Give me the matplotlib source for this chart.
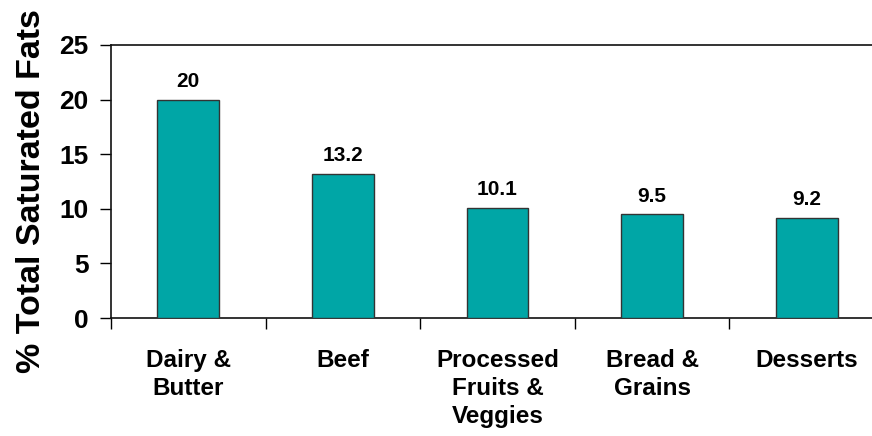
import matplotlib
matplotlib.use("Agg")
import matplotlib.pyplot as plt
import numpy as np
from matplotlib.ticker import FixedLocator, NullFormatter, FixedFormatter

categories = ["Dairy &\nButter", "Beef", "Processed\nFruits &\nVeggies", "Bread &\nGrains", "Desserts"]
values = [20, 13.2, 10.1, 9.5, 9.2]
value_labels = ["20", "13.2", "10.1", "9.5", "9.2"]
yticks = [0, 5, 10, 15, 20, 25]

plt.rcParams["font.family"] = ["Liberation Sans", "DejaVu Sans"]
plt.rcParams["font.weight"] = "bold"

fig = plt.figure(figsize=(8.72, 4.36), dpi=100)
ax = fig.add_axes([111 / 872, 118 / 436, 773 / 872, 273 / 436])

x = np.arange(len(categories))
ax.bar(x, values, width=0.4, color="#00A6A6", edgecolor="#333333", linewidth=1.0, zorder=3)

for xi, v, lab in zip(x, values, value_labels):
    ax.text(xi, v + 0.8, lab, ha="center", va="bottom", fontsize=15, fontweight="bold")

ax.set_xlim(-0.5, len(categories) - 0.5)
ax.set_ylim(0, 25)
ax.set_yticks(yticks)
ax.set_yticklabels([str(t) for t in yticks], fontsize=19, fontweight="bold")

# tick marks sit on the category boundaries, labels at the category centres
ax.xaxis.set_major_locator(FixedLocator(np.arange(-0.5, len(categories), 1.0)))
ax.xaxis.set_major_formatter(NullFormatter())
ax.xaxis.set_minor_locator(FixedLocator(x))
ax.xaxis.set_minor_formatter(FixedFormatter(categories))
ax.tick_params(axis="x", which="major", length=8, width=1, direction="out")
ax.tick_params(axis="x", which="minor", length=0, pad=22, labelsize=17.5)
for t in ax.get_xticklabels(minor=True):
    t.set_fontweight("bold")
    t.set_linespacing(1.3)
ax.tick_params(axis="y", length=8, width=1, direction="out", pad=8)

ax.spines["right"].set_visible(False)
for s in ["top", "bottom", "left"]:
    ax.spines[s].set_linewidth(1.2)
    ax.spines[s].set_color("#111111")

ax.set_ylabel("% Total Saturated Fats", fontsize=24.5, fontweight="bold")
ax.yaxis.set_label_coords(-0.083, 0.465)

fig.savefig("out.png", dpi=100)
